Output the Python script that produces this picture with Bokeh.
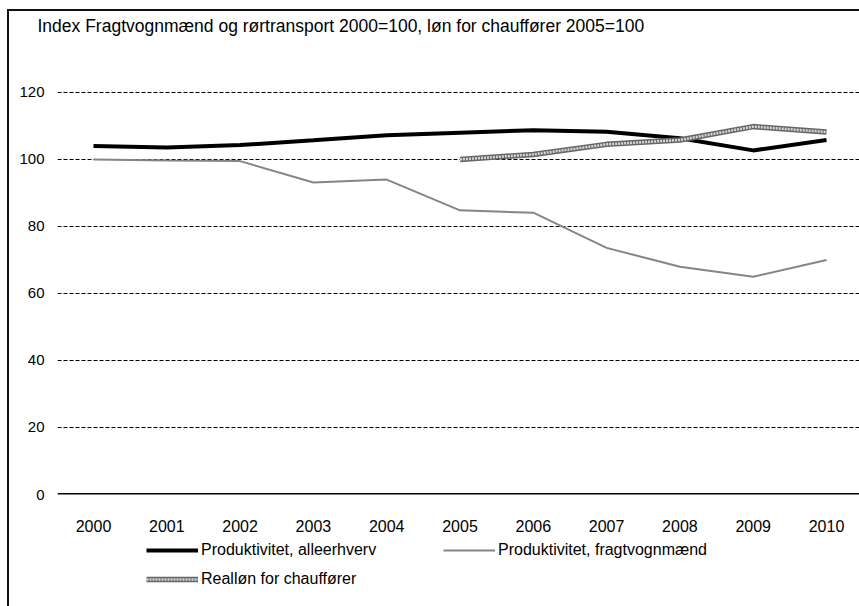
from bokeh.plotting import figure
from bokeh.models import Legend, LegendItem, FixedTicker, Range1d, Span
from bokeh.layouts import column
from bokeh.embed import file_html
from bokeh.resources import INLINE

years = [2000, 2001, 2002, 2003, 2004, 2005, 2006, 2007, 2008, 2009, 2010]
prod_alle = [104.0, 103.6, 104.3, 105.7, 107.2, 108.0, 108.7, 108.3, 106.3, 102.7, 105.8]
prod_fragt = [100.0, 99.7, 99.5, 93.1, 94.0, 84.8, 84.1, 73.6, 68.0, 65.0, 70.0]
years_real = [2005, 2006, 2007, 2008, 2009, 2010]
realloen = [100.0, 101.5, 104.5, 105.8, 109.8, 108.2]
y_ticks = [0, 20, 40, 60, 80, 100, 120]

title_text = "Index Fragtvognmænd og rørtransport 2000=100, løn for chauffører 2005=100"
labels = ["Produktivitet, alleerhverv", "Produktivitet, fragtvognmænd", "Realløn for chauffører"]

FONT = "Liberation Sans"

ALLE = dict(line_color="black", line_width=4)
FRAGT = dict(line_color="#858585", line_width=2)
REAL_O = dict(line_color="#666666", line_width=5.5)
REAL_I = dict(line_color="#d6d6d6", line_width=2.5, line_dash="2 1")

p = figure(width=859, height=540, output_backend="svg", toolbar_location=None,
           x_range=Range1d(1999.509, 2010.45), y_range=Range1d(0, 135.5),
           min_border_left=57, min_border_right=0, min_border_top=40, min_border_bottom=46,
           title=title_text)

p.title.text_font = FONT
p.title.text_font_size = "17.5px"
p.title.text_font_style = "normal"
p.title.text_color = "black"
p.title.offset = -20
p.title.standoff = 10

p.outline_line_color = None
p.background_fill_alpha = 0
p.border_fill_alpha = 0

p.xaxis.ticker = FixedTicker(ticks=years)
p.xaxis.major_label_overrides = {y: str(y) for y in years}
p.xaxis.axis_line_color = None
p.xaxis.major_tick_line_color = None
p.xaxis.major_tick_out = 0
p.xaxis.major_tick_in = 0
p.xaxis.minor_tick_line_color = None
p.xaxis.major_label_standoff = 25
p.xaxis.major_label_text_font = FONT
p.xaxis.major_label_text_font_size = "16px"
p.xaxis.major_label_text_color = "black"

p.yaxis.ticker = FixedTicker(ticks=y_ticks)
p.yaxis.axis_line_color = None
p.yaxis.major_tick_line_color = None
p.yaxis.major_tick_out = 0
p.yaxis.major_tick_in = 0
p.yaxis.minor_tick_line_color = None
p.yaxis.major_label_standoff = 13
p.yaxis.major_label_text_font = FONT
p.yaxis.major_label_text_font_size = "15px"
p.yaxis.major_label_text_color = "black"

p.xgrid.grid_line_color = None
p.ygrid.ticker = FixedTicker(ticks=y_ticks[1:])
p.ygrid.grid_line_color = "black"
p.ygrid.grid_line_width = 1
p.ygrid.grid_line_dash = "4 2"

# zero line (category axis baseline)
p.add_layout(Span(location=y_ticks[0], dimension="width", line_color="black", line_width=3))

p.line(years, prod_alle, **ALLE)
p.line(years, prod_fragt, **FRAGT)
p.line(years_real, realloen, **REAL_O)
p.line(years_real, realloen, **REAL_I)

# legend strip below the chart (its lines lie outside its own view; only the legend shows)
q = figure(width=859, height=66, output_backend="svg", toolbar_location=None,
           x_axis_type=None, y_axis_type=None, min_border=0,
           x_range=Range1d(0, 1), y_range=Range1d(0, 1))
q.outline_line_color = None
q.background_fill_alpha = 0
q.border_fill_alpha = 0
g1 = q.line(years, prod_alle, **ALLE)
g2 = q.line(years, prod_fragt, **FRAGT)
g3o = q.line(years_real, realloen, **REAL_O)
g3i = q.line(years_real, realloen, **REAL_I)

legend = Legend(items=[
    LegendItem(label=labels[0], renderers=[g1]),
    LegendItem(label=labels[1], renderers=[g2]),
    LegendItem(label=labels[2], renderers=[g3o, g3i]),
], location=(89, 18), ncols=2, orientation="horizontal")
legend.border_line_color = None
legend.background_fill_alpha = 0
legend.padding = 0
legend.margin = 0
legend.spacing = 11
legend.glyph_width = 52
legend.glyph_height = 18
legend.label_height = 18
legend.label_width = 231
legend.label_standoff = 3
legend.label_text_font = FONT
legend.label_text_font_size = "16px"
legend.label_text_color = "black"
q.add_layout(legend, "center")

layout = column(p, q, spacing=0, width=859, height=606)
# frame of the scanned chart: left edge and top edge
layout.styles = {
    "background-image": (
        "linear-gradient(to right, transparent 7px, #111111 7px, #111111 9px, transparent 9px), "
        "linear-gradient(to bottom, transparent 9px, #111111 9px, #111111 11px, transparent 11px)"
    ),
    "background-size": "100% 100%, 100% 100%",
    "background-position": "0px 9px, 7px 0px",
    "background-repeat": "no-repeat, no-repeat",
}

open("out.html", "w").write(file_html(layout, INLINE))
